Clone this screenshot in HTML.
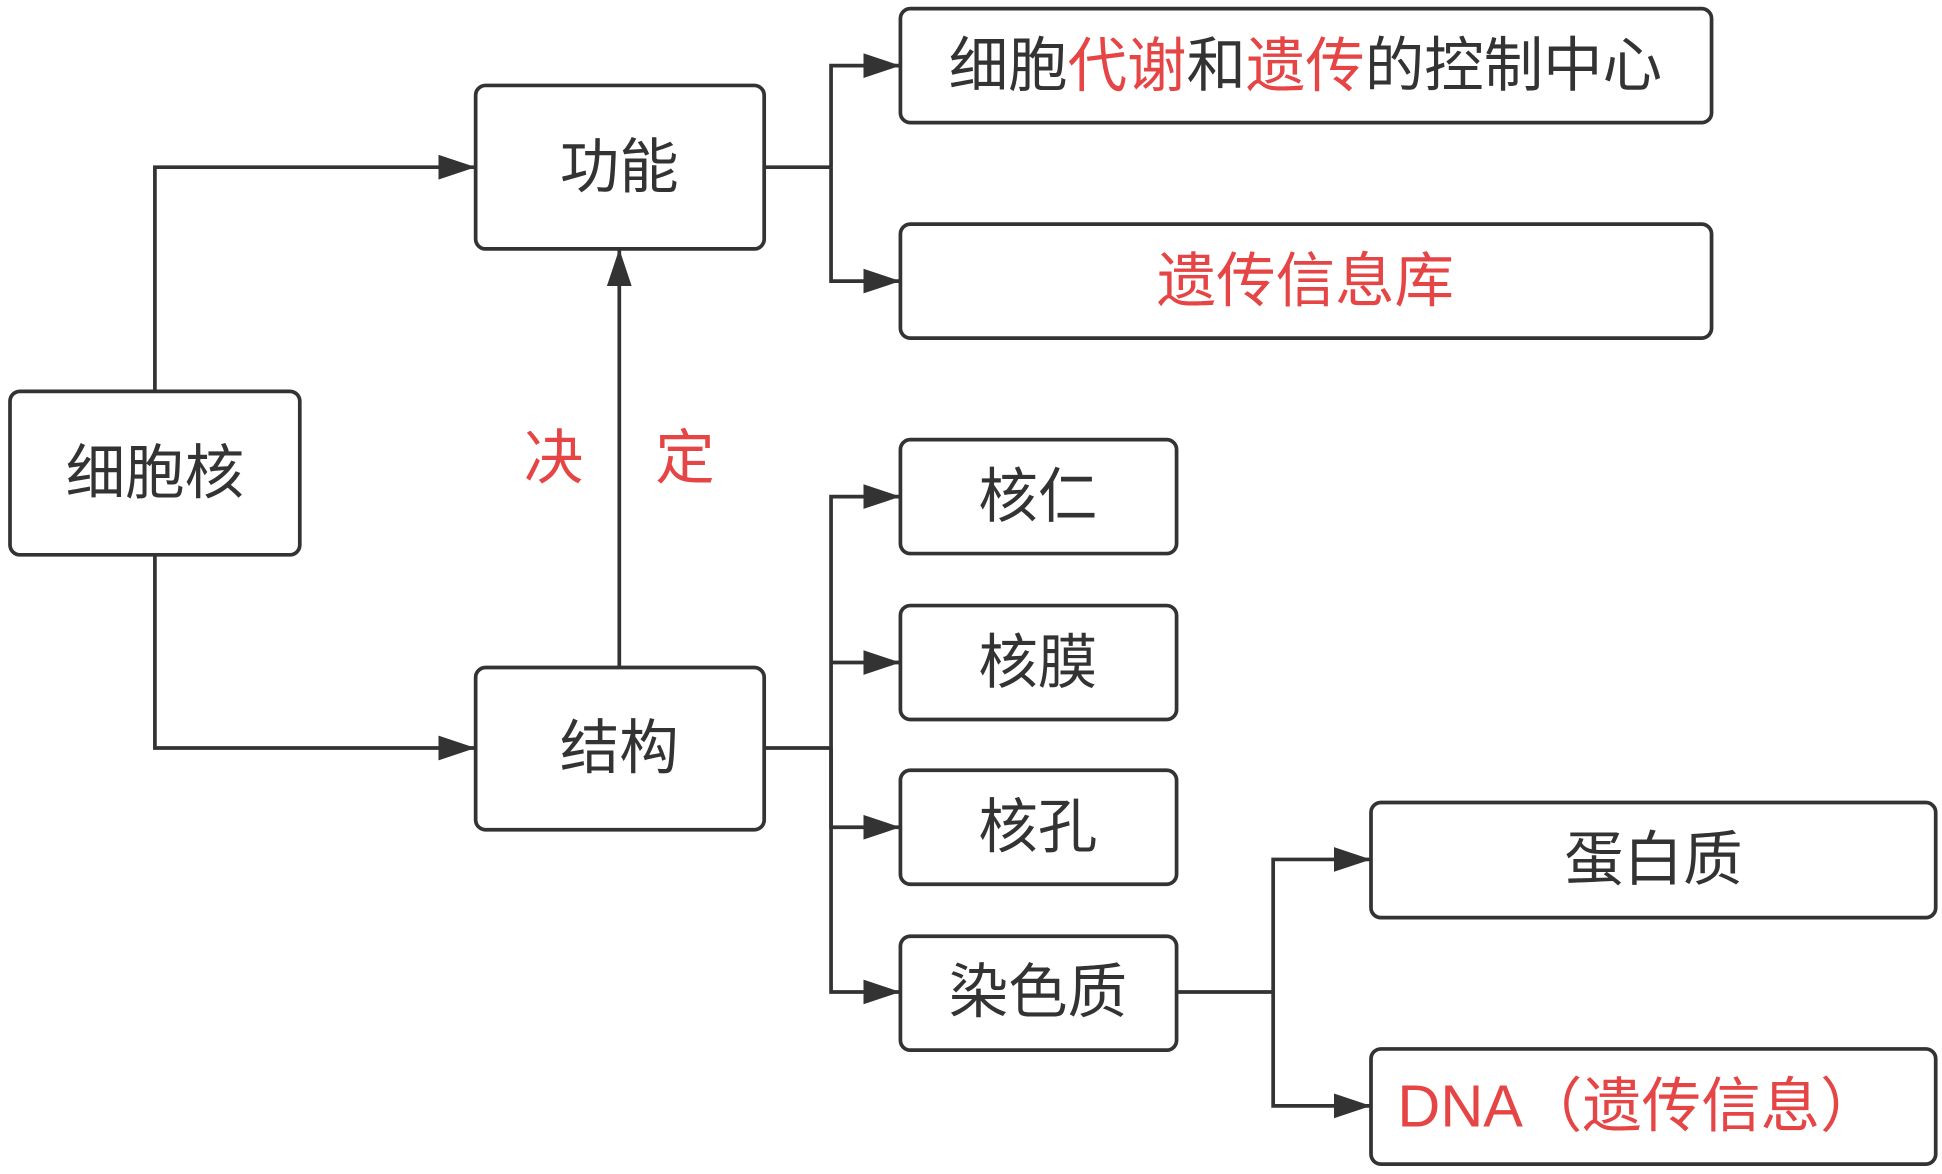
<!DOCTYPE html>
<html><head><meta charset="utf-8"><style>
html,body{margin:0;padding:0;background:#fff;}
svg{display:block}
text{font-family:"Liberation Sans","Noto Sans CJK SC",sans-serif;font-size:48px;fill:#333;}
.r{fill:#e64545;}
</style></head><body>
<svg width="1942" height="1174" viewBox="0 0 1568 948" xmlns="http://www.w3.org/2000/svg">
<defs>
<marker id="b" viewBox="0 0 30 20" markerWidth="30" markerHeight="20" refX="30" refY="10" orient="auto" markerUnits="userSpaceOnUse"><path d="M0,0 L30,10 L0,20 Z" fill="#333"/></marker></defs>
<g fill="none" stroke="#333" stroke-width="3">
<rect x="8" y="316" width="234" height="132" rx="8"/>
<rect x="384" y="69" width="233" height="132" rx="8"/>
<rect x="384" y="539" width="233" height="131" rx="8"/>
<rect x="727" y="7" width="655" height="92" rx="8"/>
<rect x="727" y="181" width="655" height="92" rx="8"/>
<rect x="727" y="355" width="223" height="92" rx="8"/>
<rect x="727" y="489" width="223" height="92" rx="8"/>
<rect x="727" y="622" width="223" height="92" rx="8"/>
<rect x="727" y="756" width="223" height="92" rx="8"/>
<rect x="1107" y="648" width="456" height="93" rx="8"/>
<rect x="1107" y="847" width="456" height="93" rx="8"/>
<path d="M125,316 V135 H384" marker-end="url(#b)"/>
<path d="M125,448 V604 H384" marker-end="url(#b)"/>
<path d="M500,539 V201" marker-end="url(#b)"/>
<path d="M617,135 H671"/>
<path d="M671,135 V53 H727" marker-end="url(#b)"/>
<path d="M671,135 V227 H727" marker-end="url(#b)"/>
<path d="M617,604 H671"/>
<path d="M671,604 V401 H727" marker-end="url(#b)"/>
<path d="M671,535 H727" marker-end="url(#b)"/>
<path d="M671,604 V668 H727" marker-end="url(#b)"/>
<path d="M671,604 V801 H727" marker-end="url(#b)"/>
<path d="M950,801 H1028"/>
<path d="M1028,801 V694 H1107" marker-end="url(#b)"/>
<path d="M1028,801 V893 H1107" marker-end="url(#b)"/>
</g>
<g text-anchor="middle" dominant-baseline="central">
<text x="125" y="382">细胞核</text>
<text x="500" y="135">功能</text>
<text x="500" y="604">结构</text>
<text x="1054" y="53">细胞<tspan class="r">代谢</tspan>和<tspan class="r">遗传</tspan>的控制中心</text>
<text x="1054" y="227" class="r">遗传信息库</text>
<text x="838" y="401">核仁</text>
<text x="838" y="535">核膜</text>
<text x="838" y="668">核孔</text>
<text x="838" y="801">染色质</text>
<text x="1335" y="694">蛋白质</text>
<text x="1323" y="893" class="r">DNA（遗传信息）</text>
<text x="447" y="370" class="r">决</text>
<text x="553" y="370" class="r">定</text>
</g>
</svg>
</body></html>
